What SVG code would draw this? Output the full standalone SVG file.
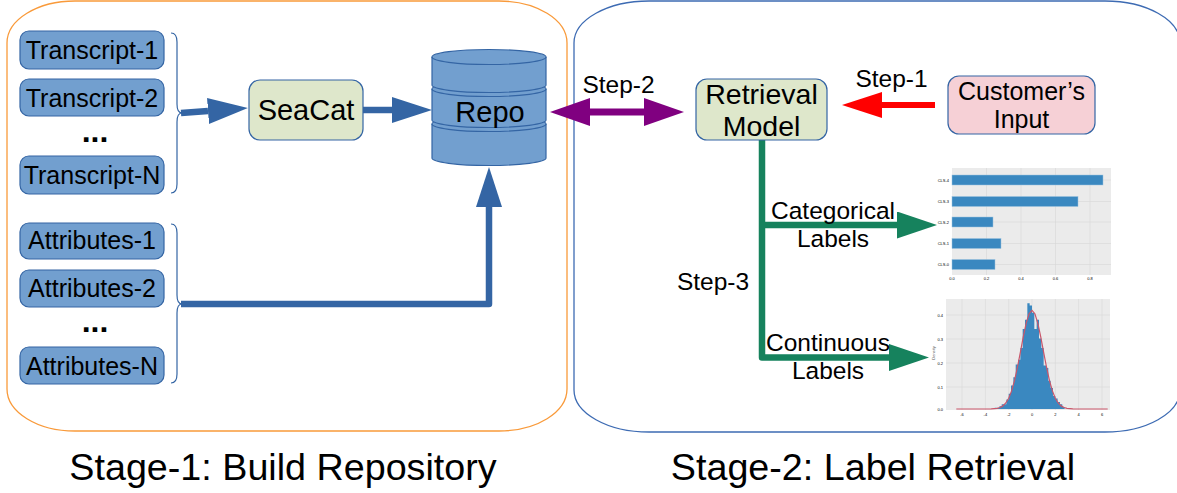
<svg xmlns="http://www.w3.org/2000/svg" width="1177" height="493" viewBox="0 0 1177 493">
<style>
text{font-family:"Liberation Sans",Arial,sans-serif;fill:#000}
.c{text-anchor:middle}
.blue{fill:#729fcf;stroke:#3465a4;stroke-width:1.2}
.green{fill:#dee7cb;stroke:#3465a4;stroke-width:1.2}
.pink{fill:#f6d0d6;stroke:#3465a4;stroke-width:1.2}
.t24{font-size:24.5px}
.tb{font-size:25px}
.t28{font-size:29px}
.t37{font-size:37.7px}
.brace{fill:none;stroke:#3465a4;stroke-width:1.2}
.dots{font-size:32px;font-weight:bold}
.tick{font-size:4px;fill:#555}
.grid{stroke:#d6d6d6;stroke-width:0.6}
</style>
<defs>
<marker id="hb" markerUnits="userSpaceOnUse" markerWidth="40" markerHeight="26" viewBox="0 0 40 26" refX="0" refY="13" orient="auto"><path d="M0,0 L40,13 L0,26 Z" fill="#3465a4"/></marker>
<marker id="hp" markerUnits="userSpaceOnUse" markerWidth="40" markerHeight="28" viewBox="0 0 40 28" refX="0" refY="14" orient="auto-start-reverse"><path d="M0,0 L40,14 L0,28 Z" fill="#800080"/></marker>
<marker id="hr" markerUnits="userSpaceOnUse" markerWidth="40" markerHeight="26" viewBox="0 0 40 26" refX="0" refY="13" orient="auto"><path d="M0,0 L40,13 L0,26 Z" fill="#ff0000"/></marker>
<marker id="hg" markerUnits="userSpaceOnUse" markerWidth="40" markerHeight="27" viewBox="0 0 40 27" refX="0" refY="13.5" orient="auto"><path d="M0,0 L40,13.5 L0,27 Z" fill="#16825d"/></marker>
</defs>

<g id="panels">
<rect id="stage1" x="7" y="1" width="560" height="430" rx="68" ry="42" fill="none" stroke="#f99a3a" stroke-width="1.3"/>
<rect id="stage2" x="574" y="1" width="606" height="431" rx="75" ry="42" fill="none" stroke="#3d6bb3" stroke-width="1.3"/>
</g>

<g id="connectors" fill="none" stroke-linejoin="round">
<path d="M181,113 L208,111" stroke="#3465a4" stroke-width="6.5" marker-end="url(#hb)"/>
<path d="M363,110 L392,110" stroke="#3465a4" stroke-width="6.5" marker-end="url(#hb)"/>
<path d="M181,304 H489 V207" stroke="#3465a4" stroke-width="6.5" marker-end="url(#hb)"/>
<path d="M590,112 L644,112" stroke="#800080" stroke-width="7" marker-start="url(#hp)" marker-end="url(#hp)"/>
<path d="M935,105 L882,105" stroke="#ff0000" stroke-width="6" marker-end="url(#hr)"/>
<path d="M762,140 V357.5 H889" stroke="#16825d" stroke-width="6.5" marker-end="url(#hg)"/>
<path d="M762,225 H897" stroke="#16825d" stroke-width="6.5" marker-end="url(#hg)"/>
</g>

<g id="transcript-1"><rect class="blue" x="20" y="31" width="144" height="38" rx="9"/><text class="tb c" x="92" y="59">Transcript-1</text></g>
<g id="transcript-2"><rect class="blue" x="20" y="79" width="144" height="37" rx="9"/><text class="tb c" x="92" y="107">Transcript-2</text></g>
<g id="transcript-dots"><text class="dots c" x="95" y="142">...</text></g>
<g id="transcript-n"><rect class="blue" x="20" y="156" width="144" height="38" rx="9"/><text class="tb c" x="92" y="184">Transcript-N</text></g>
<path class="brace" d="M171,33 Q177,33 177,42 V104 Q177,113 182,113 Q177,113 177,122 V184 Q177,193 171,193"/>

<g id="attributes-1"><rect class="blue" x="20" y="223" width="144" height="36" rx="9"/><text class="tb c" x="92" y="249">Attributes-1</text></g>
<g id="attributes-2"><rect class="blue" x="20" y="270" width="144" height="37" rx="9"/><text class="tb c" x="92" y="297">Attributes-2</text></g>
<g id="attributes-dots"><text class="dots c" x="95" y="332">...</text></g>
<g id="attributes-n"><rect class="blue" x="20" y="347" width="144" height="37" rx="9"/><text class="tb c" x="92" y="375">Attributes-N</text></g>
<path class="brace" d="M171,224 Q177,224 177,233 V295 Q177,304 182,304 Q177,304 177,313 V374 Q177,383 171,383"/>

<g id="seacat"><rect class="green" x="249" y="80" width="114" height="60" rx="11"/><text class="t28 c" x="306" y="120">SeaCat</text></g>

<g id="repo">
<path class="blue" d="M432,124 V158 A57,7.5 0 0 0 546,158 V124 A57,7.5 0 0 0 432,124 Z"/>
<path class="brace" d="M432,124 A57,7.5 0 0 0 546,124"/>
<path class="blue" d="M432,89 V120 A57,7.5 0 0 0 546,120 V89 A57,7.5 0 0 0 432,89 Z"/>
<path class="brace" d="M432,89 A57,7.5 0 0 0 546,89"/>
<path class="blue" d="M432,57 V85 A57,7.5 0 0 0 546,85 V57 A57,7.5 0 0 0 432,57 Z"/>
<path class="brace" d="M432,57 A57,7.5 0 0 0 546,57"/>
<text class="t28 c" x="490" y="122">Repo</text>
</g>

<g id="retrieval-model"><rect class="green" x="696" y="79" width="131" height="61" rx="11"/><text class="c" style="font-size:28.5px" x="761.5" y="104">Retrieval</text><text class="c" style="font-size:28.5px" x="761.5" y="136">Model</text></g>

<g id="customer-input"><rect class="pink" x="948" y="76" width="147" height="58" rx="11"/><text class="c" style="font-size:25px" x="1021.5" y="100">Customer’s</text><text class="c" style="font-size:25px" x="1021.5" y="128">Input</text></g>

<g id="labels">
<text class="t24 c" x="618.5" y="93">Step-2</text>
<text class="t24 c" x="891.5" y="87">Step-1</text>
<text class="t24 c" x="713" y="290">Step-3</text>
<text class="t24 c" x="833" y="219">Categorical</text>
<text class="t24 c" x="833" y="247">Labels</text>
<text class="t24 c" x="828" y="351">Continuous</text>
<text class="t24 c" x="828" y="379">Labels</text>
</g>

<g id="bar-chart">
<rect x="952" y="168" width="159" height="107" fill="#ebebeb"/>
<g class="grid">
<line x1="986.5" y1="168" x2="986.5" y2="275"/><line x1="1021" y1="168" x2="1021" y2="275"/><line x1="1055.5" y1="168" x2="1055.5" y2="275"/><line x1="1090" y1="168" x2="1090" y2="275"/>
<line x1="952" y1="180" x2="1111" y2="180"/><line x1="952" y1="201.5" x2="1111" y2="201.5"/><line x1="952" y1="222" x2="1111" y2="222"/><line x1="952" y1="243.5" x2="1111" y2="243.5"/><line x1="952" y1="264.5" x2="1111" y2="264.5"/>
</g>
<g fill="#3a88c0" stroke="#9cc3e0" stroke-width="0.5">
<rect x="952" y="175" width="151" height="10"/>
<rect x="952" y="196.5" width="126" height="10"/>
<rect x="952" y="217" width="41" height="10"/>
<rect x="952" y="238.5" width="49" height="10"/>
<rect x="952" y="259.5" width="43" height="10"/>
</g>
<g class="tick" text-anchor="end">
<text x="949" y="181.5">CLS-4</text><text x="949" y="203">CLS-3</text><text x="949" y="223.5">CLS-2</text><text x="949" y="245">CLS-1</text><text x="949" y="266">CLS-0</text>
</g>
<g class="tick" text-anchor="middle">
<text x="952" y="280">0.0</text><text x="986.5" y="280">0.2</text><text x="1021" y="280">0.4</text><text x="1055.5" y="280">0.6</text><text x="1090" y="280">0.8</text>
</g>
</g>

<g id="histogram">
<rect x="946" y="299" width="164" height="111" fill="#ebebeb"/>
<g class="grid">
<line x1="962" y1="299" x2="962" y2="410"/><line x1="985.4" y1="299" x2="985.4" y2="410"/><line x1="1008.7" y1="299" x2="1008.7" y2="410"/><line x1="1032" y1="299" x2="1032" y2="410"/><line x1="1055.3" y1="299" x2="1055.3" y2="410"/><line x1="1078.6" y1="299" x2="1078.6" y2="410"/><line x1="1102" y1="299" x2="1102" y2="410"/>
<line x1="946" y1="315" x2="1110" y2="315"/><line x1="946" y1="339" x2="1110" y2="339"/><line x1="946" y1="363" x2="1110" y2="363"/><line x1="946" y1="387" x2="1110" y2="387"/>
</g>
<path fill="#3a88c0" d="M994.72,409 V407.8 H997.05 V408.1 H999.38 V406.2 H1001.71 V404.3 H1004.04 V404.3 H1006.37 V399.6 H1008.7 V393.7 H1011.03 V385.5 H1013.36 V377.3 H1015.69 V364.4 H1018.02 V359.7 H1020.35 V347.9 H1022.68 V329.1 H1025.01 V319.7 H1027.34 V303.25 H1029.67 V305.6 H1032 V312.65 H1034.33 V329.1 H1036.66 V319.7 H1038.99 V338.5 H1041.32 V347.9 H1043.65 V365.5 H1045.98 V367.9 H1048.31 V380.8 H1050.64 V387.9 H1052.97 V396.1 H1055.3 V398.4 H1057.63 V402 H1059.96 V404.3 H1062.29 V407.1 H1064.62 V409 Z"/>
<polyline fill="none" stroke="#c9566a" stroke-width="1.2" points="956.3,409 991.2,408.9 997.05,408.3 999.96,407.5 1002.9,405.9 1005.8,403 1008.7,398.2 1011.6,390.9 1014.5,380.6 1017.4,367.5 1020.35,352.3 1023.3,336.7 1026.2,323.1 1029.1,313.7 1032,310.3 1034.9,313.7 1037.8,323.1 1040.7,336.7 1043.65,352.3 1046.6,367.5 1049.5,380.6 1052.4,390.9 1055.3,398.2 1058.2,403 1061.1,405.9 1064,407.5 1067,408.3 1072.8,408.9 1107.7,409"/>
<g class="tick" text-anchor="end">
<text x="943" y="316.5">0.4</text><text x="943" y="340.5">0.3</text><text x="943" y="364.5">0.2</text><text x="943" y="388.5">0.1</text><text x="943" y="410.5">0.0</text>
</g>
<text class="tick" text-anchor="middle" transform="translate(935,353) rotate(-90)">Density</text>
<g class="tick" text-anchor="middle">
<text x="962" y="416">-6</text><text x="985.4" y="416">-4</text><text x="1008.7" y="416">-2</text><text x="1032" y="416">0</text><text x="1055.3" y="416">2</text><text x="1078.6" y="416">4</text><text x="1102" y="416">6</text>
</g>
</g>

<g id="titles">
<text class="t37 c" x="283" y="480">Stage-1: Build Repository</text>
<text class="t37 c" x="873" y="480">Stage-2: Label Retrieval</text>
</g>
</svg>
